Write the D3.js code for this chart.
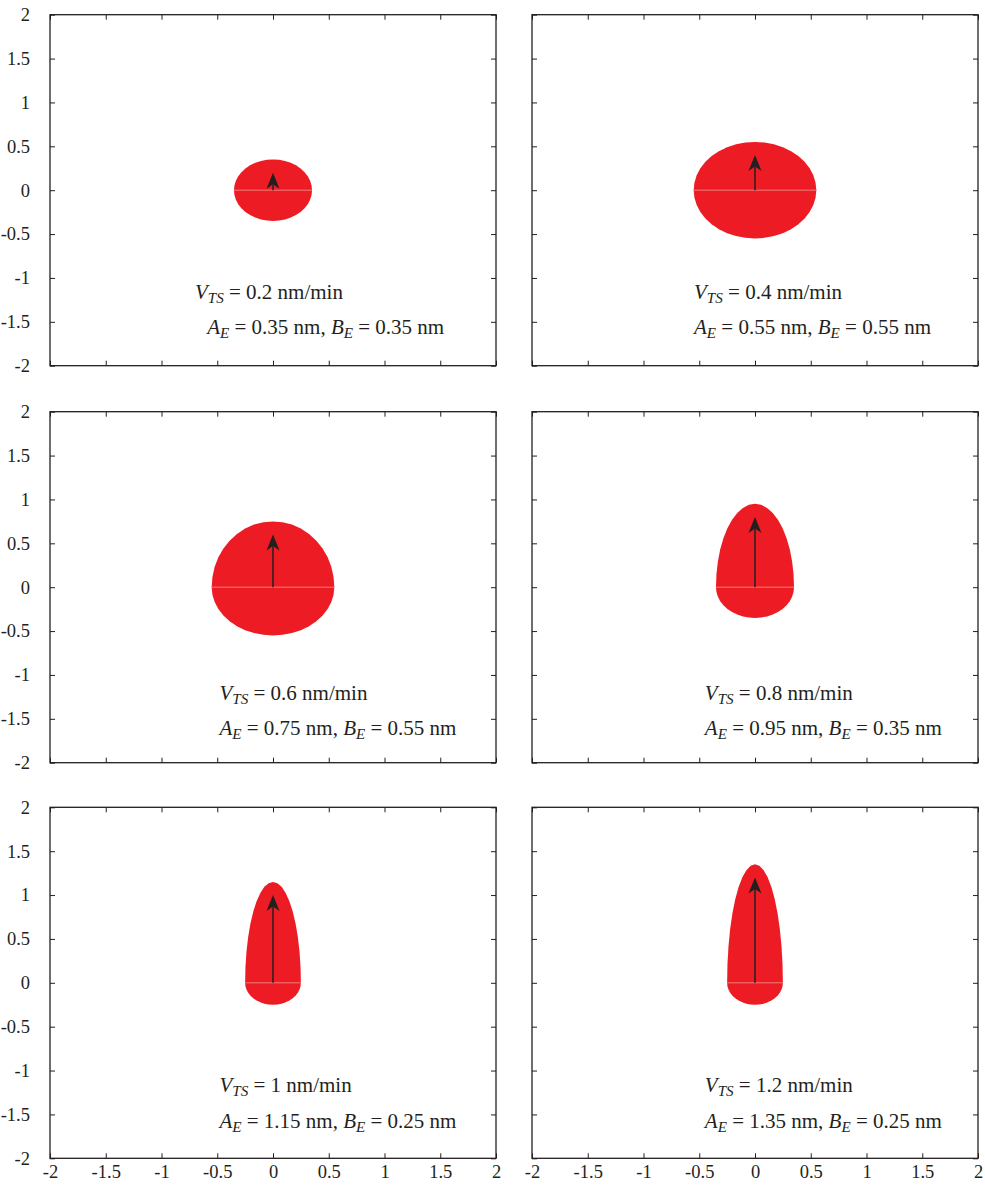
<!DOCTYPE html>
<html>
<head>
<meta charset="utf-8">
<script src="https://cdn.jsdelivr.net/npm/d3@7"></script>
<style>
  body { margin: 0; background: #fff; }
</style>
</head>
<body>
<div id="chart"></div>
<script>
// panel parameters
const vts = [0.2, 0.4, 0.6, 0.8, 1, 1.2];        // tip speed, nm/min (arrow length)
const aE  = [0.35, 0.55, 0.75, 0.95, 1.15, 1.35]; // semi-axis ahead of tip
const bE  = [0.35, 0.55, 0.55, 0.35, 0.25, 0.25]; // semi-axis sideways / behind
const tickVals = [-2, -1.5, -1, -0.5, 0, 0.5, 1, 1.5, 2];

const W = 985, H = 1185;
const colX = [50, 532];
const rowY = [14.7, 411.7, 807.3];
const pw = 446, ph = 351;
const ink = "#231f20";
const red = "#ed1c24";
const serif = "\"Liberation Serif\"";

// where the two text lines start, in data units (per panel)
const labelX = [[-0.70, -0.59], [-0.547, -0.547], [-0.48, -0.48], [-0.45, -0.45], [-0.48, -0.48], [-0.45, -0.45]];
const labelY = [[-1.24, -1.64], [-1.24, -1.64], [-1.28, -1.69], [-1.28, -1.69], [-1.245, -1.655], [-1.245, -1.655]];

const svg = d3.select("#chart").append("svg")
  .attr("width", W).attr("height", H);

const fmt = d => String(d);

vts.forEach((v, i) => {
  const col = i % 2, row = Math.floor(i / 2);
  const g = svg.append("g").attr("transform", `translate(${colX[col]},${rowY[row]})`);

  const x = d3.scaleLinear().domain([-2, 2]).range([0, pw]);
  const y = d3.scaleLinear().domain([-2, 2]).range([ph, 0]);

  // egg shape: upper half ellipse (B, A), lower half circle (B)
  const a = aE[i], b = bE[i];
  const n = 20;
  const pts = [];
  for (let k = 0; k <= n; k++) {
    const t = Math.PI * k / n;
    pts.push([b * Math.cos(t), a * Math.sin(t)]);
  }
  for (let k = 1; k < n; k++) {
    const t = Math.PI + Math.PI * k / n;
    pts.push([b * Math.cos(t), b * Math.sin(t)]);
  }
  const line = d3.line().x(d => x(d[0])).y(d => y(d[1]));
  g.append("path")
    .attr("d", line(pts) + "Z")
    .attr("fill", red);

  // seam line between the two halves
  g.append("line")
    .attr("x1", x(-b)).attr("x2", x(b))
    .attr("y1", y(0)).attr("y2", y(0))
    .attr("stroke", "#f37b7b").attr("stroke-width", 1);

  // velocity arrow
  const tipY = y(v);
  const headL = 16, headW = 6.5, notch = 4.5;
  g.append("line")
    .attr("x1", x(0)).attr("x2", x(0))
    .attr("y1", y(0)).attr("y2", tipY + headL - notch)
    .attr("stroke", ink).attr("stroke-width", 1.5);
  g.append("path")
    .attr("d", `M${x(0)},${tipY} L${x(0) + headW},${tipY + headL} L${x(0)},${tipY + headL - notch} L${x(0) - headW},${tipY + headL} Z`)
    .attr("fill", ink);

  // frame
  g.append("rect")
    .attr("width", pw).attr("height", ph)
    .attr("fill", "none").attr("stroke", ink).attr("stroke-width", 1.3);

  // inward ticks on all sides
  const tl = 5;
  const axB = d3.axisBottom(x).tickValues(tickVals).tickSize(tl).tickFormat(row === 2 ? fmt : "");
  const axT = d3.axisTop(x).tickValues(tickVals).tickSize(tl).tickFormat("");
  const axL = d3.axisLeft(y).tickValues(tickVals).tickSize(tl).tickFormat(col === 0 ? fmt : "");
  const axR = d3.axisRight(y).tickValues(tickVals).tickSize(tl).tickFormat("");

  const gb = g.append("g").attr("transform", `translate(0,${ph})`).call(axB);
  gb.selectAll(".tick line").attr("y2", -tl);
  gb.selectAll(".tick text").attr("y", 7).attr("dy", "0.71em");
  const gt = g.append("g").call(axT);
  gt.selectAll(".tick line").attr("y2", tl);
  const gl = g.append("g").call(axL);
  gl.selectAll(".tick line").attr("x2", tl);
  gl.selectAll(".tick text").attr("x", -20);
  const gr = g.append("g").attr("transform", `translate(${pw},0)`).call(axR);
  gr.selectAll(".tick line").attr("x2", -tl);

  g.selectAll(".domain").remove();
  g.selectAll(".tick line").attr("stroke", ink).attr("stroke-width", 1);
  g.selectAll(".tick text")
    .style("font-family", serif)
    .attr("font-size", 18.5).attr("fill", ink);

  // annotation text
  const fs = 21;
  const t1 = g.append("text")
    .attr("x", x(labelX[i][0])).attr("y", y(labelY[i][0]))
    .style("font-family", serif).attr("fill", ink)
    .attr("font-size", fs);
  t1.append("tspan").attr("font-style", "italic").text("V");
  t1.append("tspan").attr("font-style", "italic").attr("font-size", fs * 0.72)
    .attr("dy", 4).text("TS");
  t1.append("tspan").attr("dy", -4).text(" = " + fmt(v) + " nm/min");

  const t2 = g.append("text")
    .attr("x", x(labelX[i][1])).attr("y", y(labelY[i][1]))
    .style("font-family", serif).attr("fill", ink)
    .attr("font-size", fs);
  t2.append("tspan").attr("font-style", "italic").text("A");
  t2.append("tspan").attr("font-style", "italic").attr("font-size", fs * 0.72)
    .attr("dy", 4).text("E");
  t2.append("tspan").attr("dy", -4).text(" = " + fmt(a) + " nm, ");
  t2.append("tspan").attr("font-style", "italic").text("B");
  t2.append("tspan").attr("font-style", "italic").attr("font-size", fs * 0.72)
    .attr("dy", 4).text("E");
  t2.append("tspan").attr("dy", -4).text(" = " + fmt(b) + " nm");
});
</script>
</body>
</html>
